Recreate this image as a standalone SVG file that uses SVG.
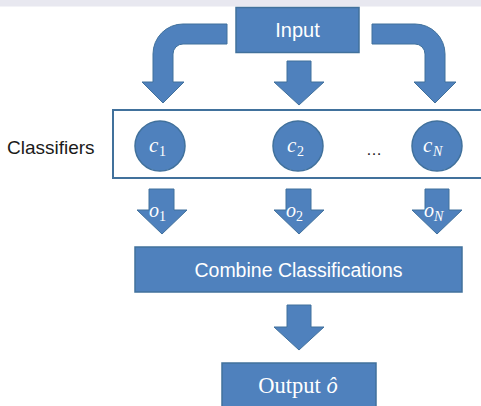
<svg xmlns="http://www.w3.org/2000/svg" width="481" height="406" viewBox="0 0 481 406">
<style>
.box{fill:#4f81bd;stroke:#41719c;stroke-width:1.5}
.arr{fill:#4f81bd;stroke:#41719c;stroke-width:1}
.lbl{font-family:"Liberation Sans",Arial,sans-serif;fill:#ffffff;text-anchor:middle}
.math{font-family:"Liberation Serif","DejaVu Serif",serif;fill:#ffffff;font-style:italic}
.sub{font-family:"Liberation Serif","DejaVu Serif",serif;fill:#ffffff}
.blk{font-family:"Liberation Sans",Arial,sans-serif;fill:#1a1a1a}
</style>
<rect width="481" height="406" fill="#ffffff"/>
<rect x="0" y="0" width="481" height="6.5" fill="#e8e8f0"/>

<g id="connectors">
  <path class="arr" d="M227,24 L183,24 A30,30 0 0 0 153,54 L153,82 L142,82 L163,103 L184,82 L173,82 L173,54 A10,10 0 0 1 183,44 L227,44 Z"/>
  <path class="arr" d="M287,61 L311,61 L311,82 L324,82 L299,105 L274,82 L287,82 Z"/>
  <path class="arr" d="M372,24 L415,24 A30,30 0 0 1 445,54 L445,82 L456,82 L435,103 L414,82 L425,82 L425,54 A10,10 0 0 0 415,44 L372,44 Z"/>
  <path class="arr" d="M149,189 L174,189 L174,210 L187,210 L162,234 L137,210 L149,210 Z"/>
  <path class="arr" d="M286,189 L311,189 L311,210 L324,210 L299,234 L274,210 L286,210 Z"/>
  <path class="arr" d="M425,189 L449,189 L449,210 L462,210 L437,234 L412,210 L425,210 Z"/>
  <path class="arr" d="M287,305 L311,305 L311,327 L324,327 L299,350 L274,327 L287,327 Z"/>
</g>

<g id="input">
  <rect class="box" x="236" y="7.5" width="123" height="45"/>
  <text class="lbl" x="297.5" y="37" font-size="20">Input</text>
</g>

<g id="classifiers">
  <rect x="113" y="110" width="400" height="68" fill="#ffffff" stroke="#41719c" stroke-width="2"/>
  <text class="blk" x="7" y="154" font-size="19">Classifiers</text>
  <text class="blk" x="366" y="155" font-size="16">…</text>
</g>

<g id="c1">
  <circle class="box" cx="160" cy="146" r="25"/>
  <text class="math" x="149" y="152" font-size="21">c</text>
  <text class="sub" x="159" y="156" font-size="14">1</text>
</g>
<g id="c2">
  <circle class="box" cx="298" cy="146" r="25"/>
  <text class="math" x="287" y="152" font-size="21">c</text>
  <text class="sub" x="297" y="156" font-size="14">2</text>
</g>
<g id="cN">
  <circle class="box" cx="437" cy="146" r="25"/>
  <text class="math" x="423" y="152" font-size="21">c</text>
  <text class="math" x="433" y="156" font-size="14">N</text>
</g>

<g id="o1">
  <text class="math" x="149" y="217" font-size="20">o</text>
  <text class="sub" x="159" y="221" font-size="14">1</text>
</g>
<g id="o2">
  <text class="math" x="286" y="217" font-size="20">o</text>
  <text class="sub" x="296" y="221" font-size="14">2</text>
</g>
<g id="oN">
  <text class="math" x="424" y="217" font-size="20">o</text>
  <text class="math" x="434" y="221" font-size="14">N</text>
</g>

<g id="combine">
  <rect class="box" x="135" y="247" width="327" height="45"/>
  <text class="lbl" x="298.5" y="277" font-size="19.5">Combine Classifications</text>
</g>

<g id="output">
  <rect class="box" x="222" y="363" width="154" height="60"/>
  <text x="298" y="393" font-size="22.5" text-anchor="middle" fill="#ffffff" font-family="Liberation Serif, DejaVu Serif, serif">Output <tspan font-style="italic">ô</tspan></text>
</g>
</svg>
